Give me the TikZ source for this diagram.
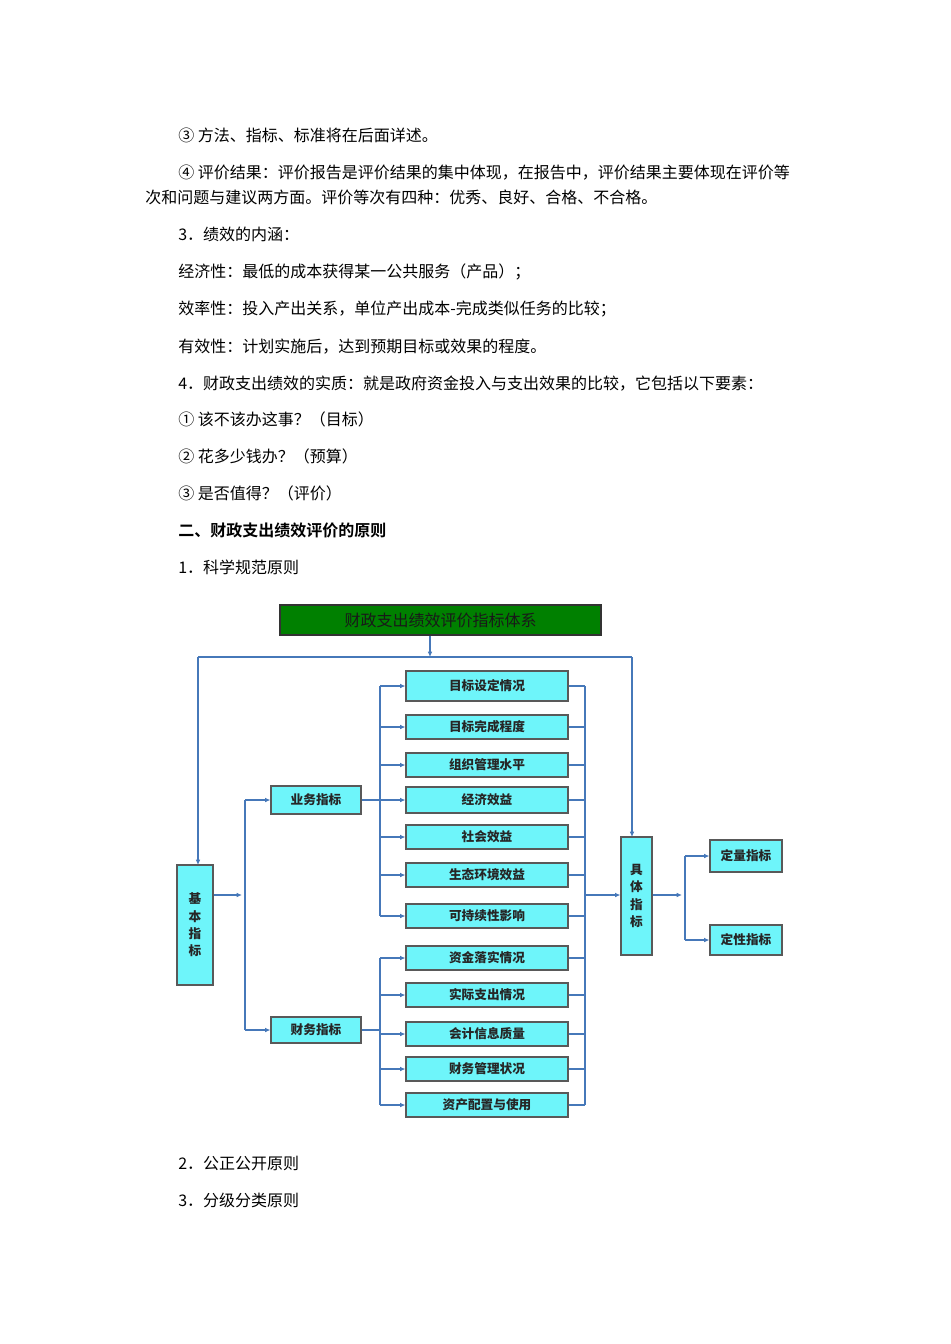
\documentclass[tikz,border=0pt]{standalone}
\usepackage{fontspec}
\setmainfont{Noto Sans CJK SC}
\newfontfamily\cjkb{Noto Sans CJK SC}[BoldFont={* Bold}]
\usetikzlibrary{arrows.meta}
\definecolor{boxfill}{RGB}{110,245,250}
\definecolor{lncol}{RGB}{70,120,185}
\definecolor{titlefill}{RGB}{0,128,0}
\begin{document}
\begin{tikzpicture}[x=0.75pt,y=-0.75pt,
  txt/.style={anchor=base west,inner sep=0pt,font=\fontsize{12}{14}\selectfont},
  box/.style={draw=black!65,line width=0.8pt,fill=boxfill,inner sep=0pt,font=\fontsize{9.5}{11}\selectfont\bfseries,text=black!85},
  ln/.style={draw=lncol,line width=0.8pt},
  ar/.style={ln,-{Latex[length=4pt,width=3.5pt]}}]
\useasboundingbox (0,0) rectangle (950,1344);
% text
\node[txt] (t1) at (178,142) {③ 方法、指标、标准将在后面详述。};
\node[txt] (t2) at (178,179) {④ 评价结果：评价报告是评价结果的集中体现，在报告中，评价结果主要体现在评价等};
\node[txt] (t3) at (145,204) {次和问题与建议两方面。评价等次有四种：优秀、良好、合格、不合格。};
\node[txt] (t4) at (178,241) {3．绩效的内涵：};
\node[txt] (t5) at (178,278) {经济性：最低的成本获得某一公共服务（产品）；};
\node[txt] (t6) at (178,315) {效率性：投入产出关系，单位产出成本-完成类似任务的比较；};
\node[txt] (t7) at (178,352) {有效性：计划实施后，达到预期目标或效果的程度。};
\node[txt] (t8) at (178,389) {4．财政支出绩效的实质：就是政府资金投入与支出效果的比较，它包括以下要素：};
\node[txt] (t9) at (178,425) {① 该不该办这事？（目标）};
\node[txt] (t10) at (178,462) {② 花多少钱办？（预算）};
\node[txt] (t11) at (178,499) {③ 是否值得？（评价）};
\node[txt,font=\fontsize{12}{14}\selectfont\cjkb\bfseries] (t12) at (178,536) {二、财政支出绩效评价的原则};
\node[txt] (t13) at (178,573) {1．科学规范原则};
\node[txt] (t14) at (178,1169) {2．公正公开原则};
\node[txt] (t15) at (178,1206) {3．分级分类原则};
% diagram
\node[draw=black!80,line width=1pt,fill=titlefill,minimum width=321*0.75pt,minimum height=30*0.75pt,font=\fontsize{12}{14}\selectfont,text=black!90] (title) at (440.5,620) {财政支出绩效评价指标体系};
\coordinate (tj) at (430,657);
\draw[ar] (title.south -| tj) -- (tj);
\node[box,minimum width=36*0.75pt,minimum height=120*0.75pt,align=center] (jb) at (195,925) {基\\[2pt]本\\[2pt]指\\[2pt]标};
\node[box,minimum width=31*0.75pt,minimum height=118*0.75pt,align=center] (jt) at (636.5,896) {具\\[2pt]体\\[2pt]指\\[2pt]标};
\draw[ln] (198,657) -- (632,657);
\draw[ar] (198,657) -- (198,865);
\draw[ar] (632,657) -- (632,837);
\node[box,minimum width=90*0.75pt,minimum height=28*0.75pt] (yw) at (316,800) {业务指标};
\node[box,minimum width=90*0.75pt,minimum height=26*0.75pt] (cw) at (316,1030) {财务指标};
\draw[ar] (jb.east |- 0,895) -- (242,895);
\draw[ln] (245,800) -- (245,1030);
\draw[ar] (245,800) -- (yw.west);
\draw[ar] (245,1030) -- (cw.west);
\foreach \n/\y/\h/\t in {m1/686/30/目标设定情况,m2/727/24/目标完成程度,m3/765/24/组织管理水平,m4/800/26/经济效益,m5/837/24/社会效益,m6/875/24/生态环境效益,m7/916/24/可持续性影响,m8/958/24/资金落实情况,m9/995/24/实际支出情况,m10/1034/24/会计信息质量,m11/1069/24/财务管理状况,m12/1105/24/资产配置与使用}{
  \node[box,minimum width=162*0.75pt,minimum height=\h*0.75pt] (\n) at (487,\y) {\t};
  \draw[ln] (\n.east) -- (585,\y);
}
\foreach \n/\y in {m1/686,m2/727,m3/765,m4/800,m5/837,m6/875,m7/916}{\draw[ar] (380,\y) -- (\n.west);}
\foreach \n/\y in {m8/958,m9/995,m10/1034,m11/1069,m12/1105}{\draw[ar] (380,\y) -- (\n.west);}
\draw[ln] (380,686) -- (380,916);
\draw[ln] (380,958) -- (380,1105);
\draw[ln] (yw.east) -- (380,800);
\draw[ln] (cw.east) -- (380,1030);
\draw[ln] (585,686) -- (585,1105);
\draw[ar] (585,895) -- (jt.west |- 0,895);
\node[box,minimum width=72*0.75pt,minimum height=32*0.75pt] (dl) at (746,856) {定量指标};
\node[box,minimum width=72*0.75pt,minimum height=30*0.75pt] (dx) at (746,940) {定性指标};
\draw[ar] (jt.east |- 0,895) -- (682,895);
\draw[ln] (685,856) -- (685,940);
\draw[ar] (685,856) -- (dl.west);
\draw[ar] (685,940) -- (dx.west);
\end{tikzpicture}
\end{document}
